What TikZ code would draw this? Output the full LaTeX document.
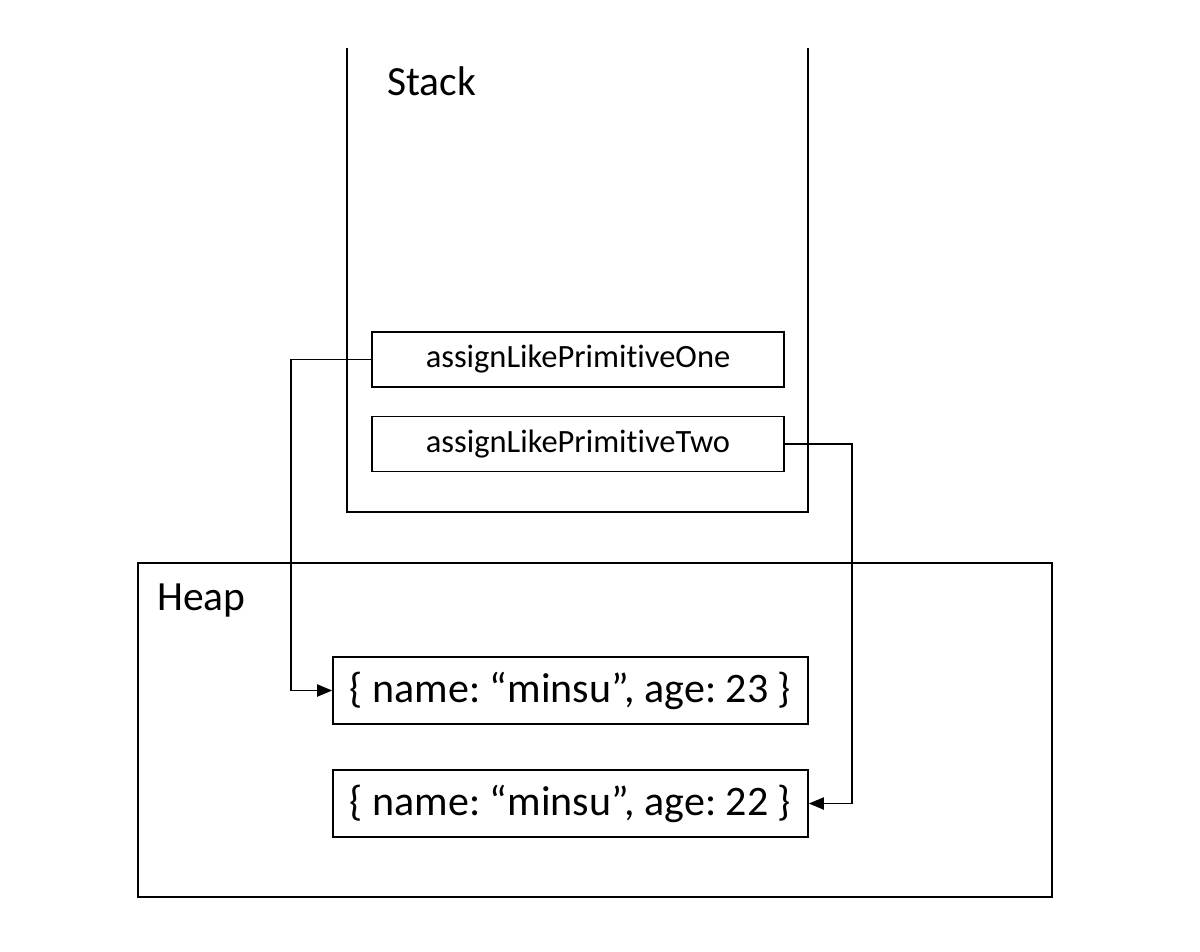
\documentclass[tikz,border=0pt]{standalone}
\usepackage{fontspec}
\setmainfont[RawFeature=-liga]{Carlito}
\frenchspacing
\usetikzlibrary{arrows.meta}
\begin{document}
\begin{tikzpicture}[x=1pt,y=-1pt,
  frame/.style={draw=black,line width=1.6pt},
  cell/.style={frame,inner sep=0pt,minimum width=412pt,minimum height=55pt,
    font=\fontsize{32.5}{38}\selectfont},
  obj/.style={frame,inner sep=0pt,minimum width=475pt,minimum height=67pt,
    font=\fontsize{42}{48}\selectfont},
  title/.style={anchor=base west,inner sep=0pt,font=\fontsize{41.5}{48}\selectfont},
  link/.style={draw=black,line width=1.9pt,-{Triangle[length=15pt,width=12pt]}}]
  \useasboundingbox (0,0) rectangle (1200,951);
  % stack: open at the top
  \draw[frame] (347,48) -- (347,512) -- (808,512) -- (808,48);
  \node[title] (stacklbl) at (387,95) {Stack};
  % heap
  \draw[frame] (138,563) rectangle (1052,897);
  \node[title] (heaplbl) at (157,610) {Heap};
  % variables on the stack
  \node[cell] (one) at (578,359.5) {assignLikePrimitiveOne};
  \node[cell] (two) at (578,444) {assignLikePrimitiveTwo};
  % objects on the heap
  \node[obj] (obj23) at (570.5,690.5) {\{ name: “minsu”, age: 23 \}};
  \node[obj] (obj22) at (570.5,803.5) {\{ name: “minsu”, age: 22 \}};
  % references
  \draw[link] (one.west) -- ++(-80,0) |- (obj23.west);
  \draw[link] (two.east) -- ++(67,0) |- (obj22.east);
\end{tikzpicture}
\end{document}
